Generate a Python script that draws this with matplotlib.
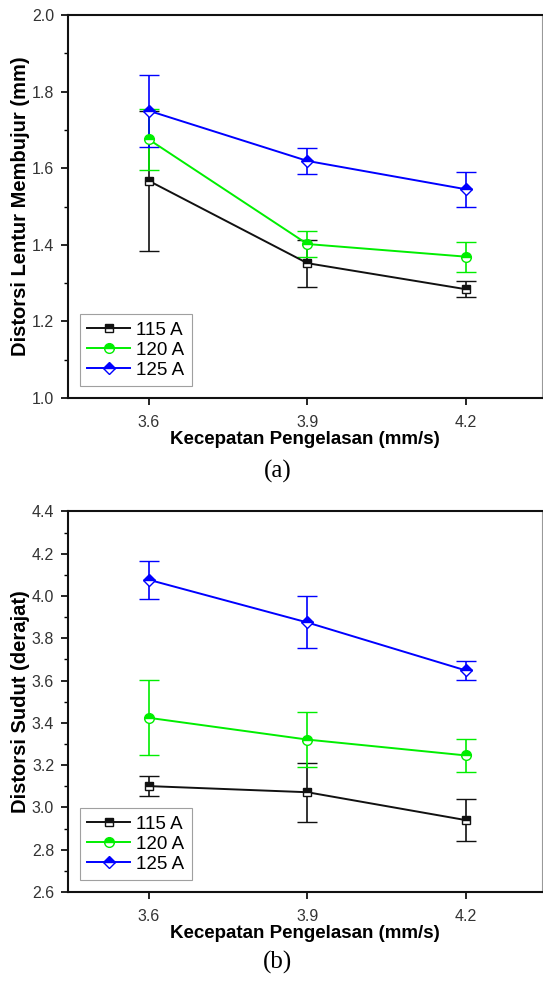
import matplotlib
matplotlib.use('Agg')
import matplotlib.pyplot as plt
from matplotlib.ticker import MultipleLocator, FormatStrFormatter
from matplotlib.lines import Line2D

# ---------------- data ----------------
speed = [3.6, 3.9, 4.2]
series_labels = ['115 A', '120 A', '125 A']
x_ticks = [3.6, 3.9, 4.2]

bow_115 = [1.567, 1.352, 1.284]
bow_115_err = [0.182, 0.061, 0.021]
bow_120 = [1.675, 1.402, 1.369]
bow_120_err = [0.080, 0.033, 0.039]
bow_125 = [1.750, 1.619, 1.545]
bow_125_err = [0.094, 0.035, 0.046]

ang_115 = [3.101, 3.072, 2.940]
ang_115_err = [0.049, 0.140, 0.101]
ang_120 = [3.424, 3.321, 3.246]
ang_120_err = [0.177, 0.132, 0.079]
ang_125 = [4.077, 3.875, 3.648]
ang_125_err = [0.089, 0.123, 0.047]

xlabel = 'Kecepatan Pengelasan (mm/s)'
ylabel_a = 'Distorsi Lentur Membujur (mm)'
ylabel_b = 'Distorsi Sudut (derajat)'

colors = ['#111111', '#00ee00', '#0000ff']
markers = ['s', 'o', 'D']
msizes = [6.0, 7.0, 6.0]

plt.rcParams['font.family'] = ['Liberation Sans', 'DejaVu Sans']

W, H = 543, 982
fig = plt.figure(figsize=(W / 100, H / 100), dpi=100)


def make_axes(top_px, bottom_px):
    left_px, right_px = 68, 542
    return fig.add_axes([left_px / W, 1 - bottom_px / H,
                         (right_px - left_px) / W, (bottom_px - top_px) / H])


def draw_panel(ax, ys, errs, ylim, ylab, major, minor, tag, tag_y):
    handles = []
    for y, e, c, m, ms, lab in zip(ys, errs, colors, markers, msizes, series_labels):
        style = dict(color=c, lw=1.4, marker=m, ms=ms, markeredgecolor=c,
                     markerfacecolor=c, markerfacecoloralt='white',
                     fillstyle='top', markeredgewidth=1.0)
        ax.errorbar(speed, y, yerr=e, elinewidth=1.2, capsize=7,
                    capthick=1.2, **style)
        handles.append(Line2D([], [], label=lab, **style))
    ax.set_xlim(3.447, 4.344)
    ax.set_ylim(*ylim)
    ax.set_xticks(x_ticks)
    ax.set_xticklabels([f'{v:.1f}' for v in x_ticks])
    ax.yaxis.set_major_locator(MultipleLocator(major))
    ax.yaxis.set_minor_locator(MultipleLocator(minor))
    ax.yaxis.set_major_formatter(FormatStrFormatter('%.1f'))
    ax.tick_params(axis='both', which='major', direction='out', length=5,
                   width=1.2, labelsize=11.5, labelcolor='#333333')
    ax.tick_params(axis='x', which='major', pad=7)
    ax.tick_params(axis='y', which='major', pad=5)
    ax.tick_params(axis='y', which='minor', direction='out', length=3, width=1.0)
    ax.tick_params(axis='x', which='minor', bottom=False)
    ax.tick_params(top=False, right=False)
    for s in ['left', 'bottom', 'top']:
        ax.spines[s].set_linewidth(1.5)
        ax.spines[s].set_color('#111111')
    ax.spines['right'].set_linewidth(0.8)
    ax.spines['right'].set_color('#999999')
    ax.set_xlabel(xlabel, fontsize=13.5, fontweight='bold', labelpad=1)
    ax.set_ylabel(ylab, fontsize=14.5, fontweight='bold', labelpad=1)
    leg = ax.legend(handles=handles, loc='lower left',
                    bbox_to_anchor=(0.025, 0.031),
                    borderaxespad=0, fontsize=13.5, frameon=True, fancybox=False,
                    edgecolor='#888888', handlelength=2.3, handletextpad=0.3,
                    labelspacing=0.15, borderpad=0.4)
    leg.get_frame().set_linewidth(0.8)
    fig.text(278 / W, 1 - tag_y / H, tag, ha='center', va='center',
             fontsize=18, family=['Liberation Serif', 'DejaVu Serif'])


ax_a = make_axes(15, 398)
draw_panel(ax_a, [bow_115, bow_120, bow_125],
           [bow_115_err, bow_120_err, bow_125_err],
           (1.0, 2.0), ylabel_a, 0.2, 0.1, '(a)', 471)

ax_b = make_axes(511.5, 892)
draw_panel(ax_b, [ang_115, ang_120, ang_125],
           [ang_115_err, ang_120_err, ang_125_err],
           (2.6, 4.4), ylabel_b, 0.2, 0.1, '(b)', 962)

fig.savefig('out.png', dpi=100)
